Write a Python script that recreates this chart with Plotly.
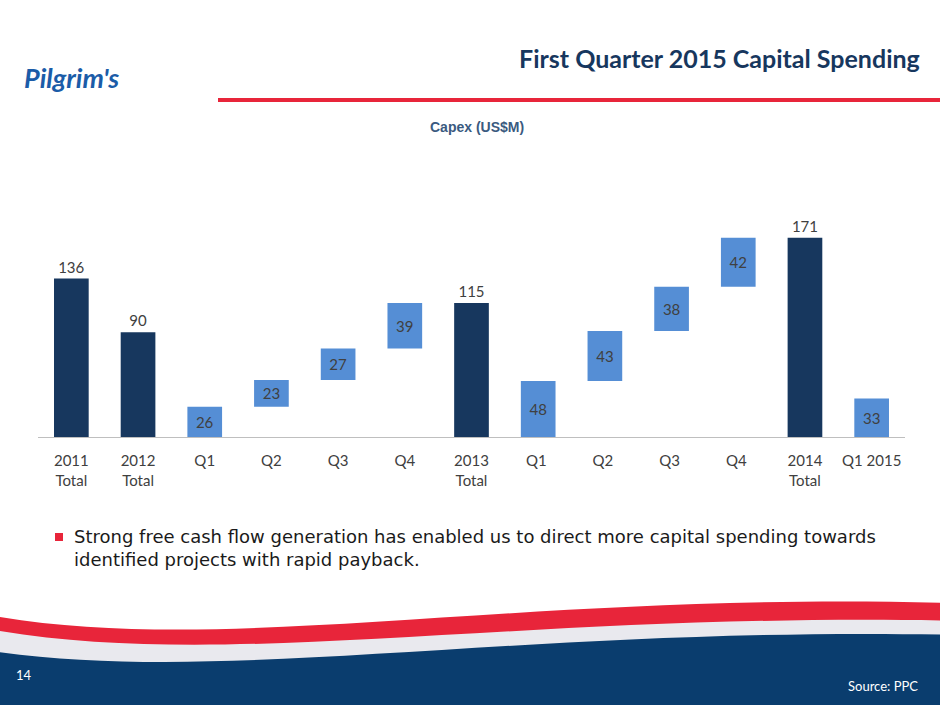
import plotly.graph_objects as go

categories = ["2011<br>Total", "2012<br>Total", "Q1", "Q2", "Q3", "Q4", "2013<br>Total",
              "Q1 ", "Q2 ", "Q3 ", "Q4 ", "2014<br>Total", "Q1 2015"]
values = [136, 90, 26, 23, 27, 39, 115, 48, 43, 38, 42, 171, 33]
is_total = [True, True, False, False, False, False, True, False, False, False, False, True, False]

# stack the quarters on top of each other, restart after each total
bases = []
running = 0
for v, t in zip(values, is_total):
    if t:
        bases.append(0)
        running = 0
    else:
        bases.append(running)
        running += v

dark = "#17375E"
light = "#558ED5"

fig = go.Figure()
fig.add_trace(go.Bar(
    x=categories, y=values, base=bases,
    marker=dict(color=[dark if t else light for t in is_total], line=dict(width=0)),
    width=0.52,
    text=[str(v) for v in values],
    textposition=["outside" if t else "inside" for t in is_total],
    insidetextanchor="middle",
    textfont=dict(family="Lato", size=15, color="#404040"),
    outsidetextfont=dict(family="Lato", size=15, color="#404040"),
    cliponaxis=False,
))

# wave at the bottom of the slide
shapes = [
    dict(type="path", xref="paper", yref="paper", line=dict(width=0), fillcolor="#E8253A",
         path="M 0,0.125 C 0.25,0.07 0.55,0.16 1,0.145 L 1,0 L 0,0 Z"),
    dict(type="path", xref="paper", yref="paper", line=dict(width=0), fillcolor="#E9E9EE",
         path="M 0,0.105 C 0.25,0.05 0.55,0.13 1,0.12 L 1,0 L 0,0 Z"),
    dict(type="path", xref="paper", yref="paper", line=dict(width=0), fillcolor="#0A3D6E",
         path="M 0,0.075 C 0.25,0.03 0.55,0.11 1,0.1 L 1,0 L 0,0 Z"),
    dict(type="line", xref="paper", yref="paper", x0=218/940, x1=1, y0=1-100/705, y1=1-100/705,
         line=dict(color="#E8253A", width=4)),
    dict(type="rect", xref="paper", yref="paper", x0=55/940, x1=63/940, y0=1-541/705, y1=1-533/705,
         fillcolor="#E8253A", line=dict(width=0)),
]

annotations = [
    dict(text="<b>First Quarter 2015 Capital Spending</b>", x=922/940, y=1-58/705, xref="paper", yref="paper",
         xanchor="right", yanchor="middle", showarrow=False, font=dict(family="Lato", size=25, color="#17375E")),
    dict(text="<b>Capex (US$M)</b>", x=477/940, y=1-127/705, xref="paper", yref="paper",
         xanchor="center", yanchor="middle", showarrow=False, font=dict(family="Liberation Sans", size=14, color="#3A5A80")),
    dict(text="<b><i>Pilgrim's</i></b>", x=22/940, y=1-78/705, xref="paper", yref="paper",
         xanchor="left", yanchor="middle", showarrow=False, font=dict(family="Lato", size=27, color="#1B5CA8")),
    dict(text="Strong free cash flow generation has enabled us to direct more capital spending towards<br>identified projects with rapid payback.",
         x=72/940, y=1-548/705, xref="paper", yref="paper", xanchor="left", yanchor="middle", align="left",
         showarrow=False, font=dict(family="DejaVu Sans", size=18, color="#1a1a1a")),
    dict(text="14", x=14/940, y=1-675/705, xref="paper", yref="paper", xanchor="left", yanchor="middle",
         showarrow=False, font=dict(family="Lato", size=13, color="white")),
    dict(text="Source: PPC", x=920/940, y=1-686/705, xref="paper", yref="paper", xanchor="right", yanchor="middle",
         showarrow=False, font=dict(family="Lato", size=13, color="white")),
]

fig.update_layout(
    width=940, height=705, margin=dict(l=0, r=0, t=0, b=0),
    paper_bgcolor="white", plot_bgcolor="white", showlegend=False,
    shapes=shapes, annotations=annotations,
    xaxis=dict(domain=[38/940, 905/940], showline=True, linecolor="#BFBFBF", linewidth=1,
               tickfont=dict(family="Lato", size=15, color="#404040"), ticks="", ticklabelstandoff=10),
    yaxis=dict(domain=[1-437/705, 1-204/705], range=[0, 200], visible=False),
)
fig.write_html("out.html", config={"displayModeBar": False},
               post_script="document.body.style.margin='0';")
